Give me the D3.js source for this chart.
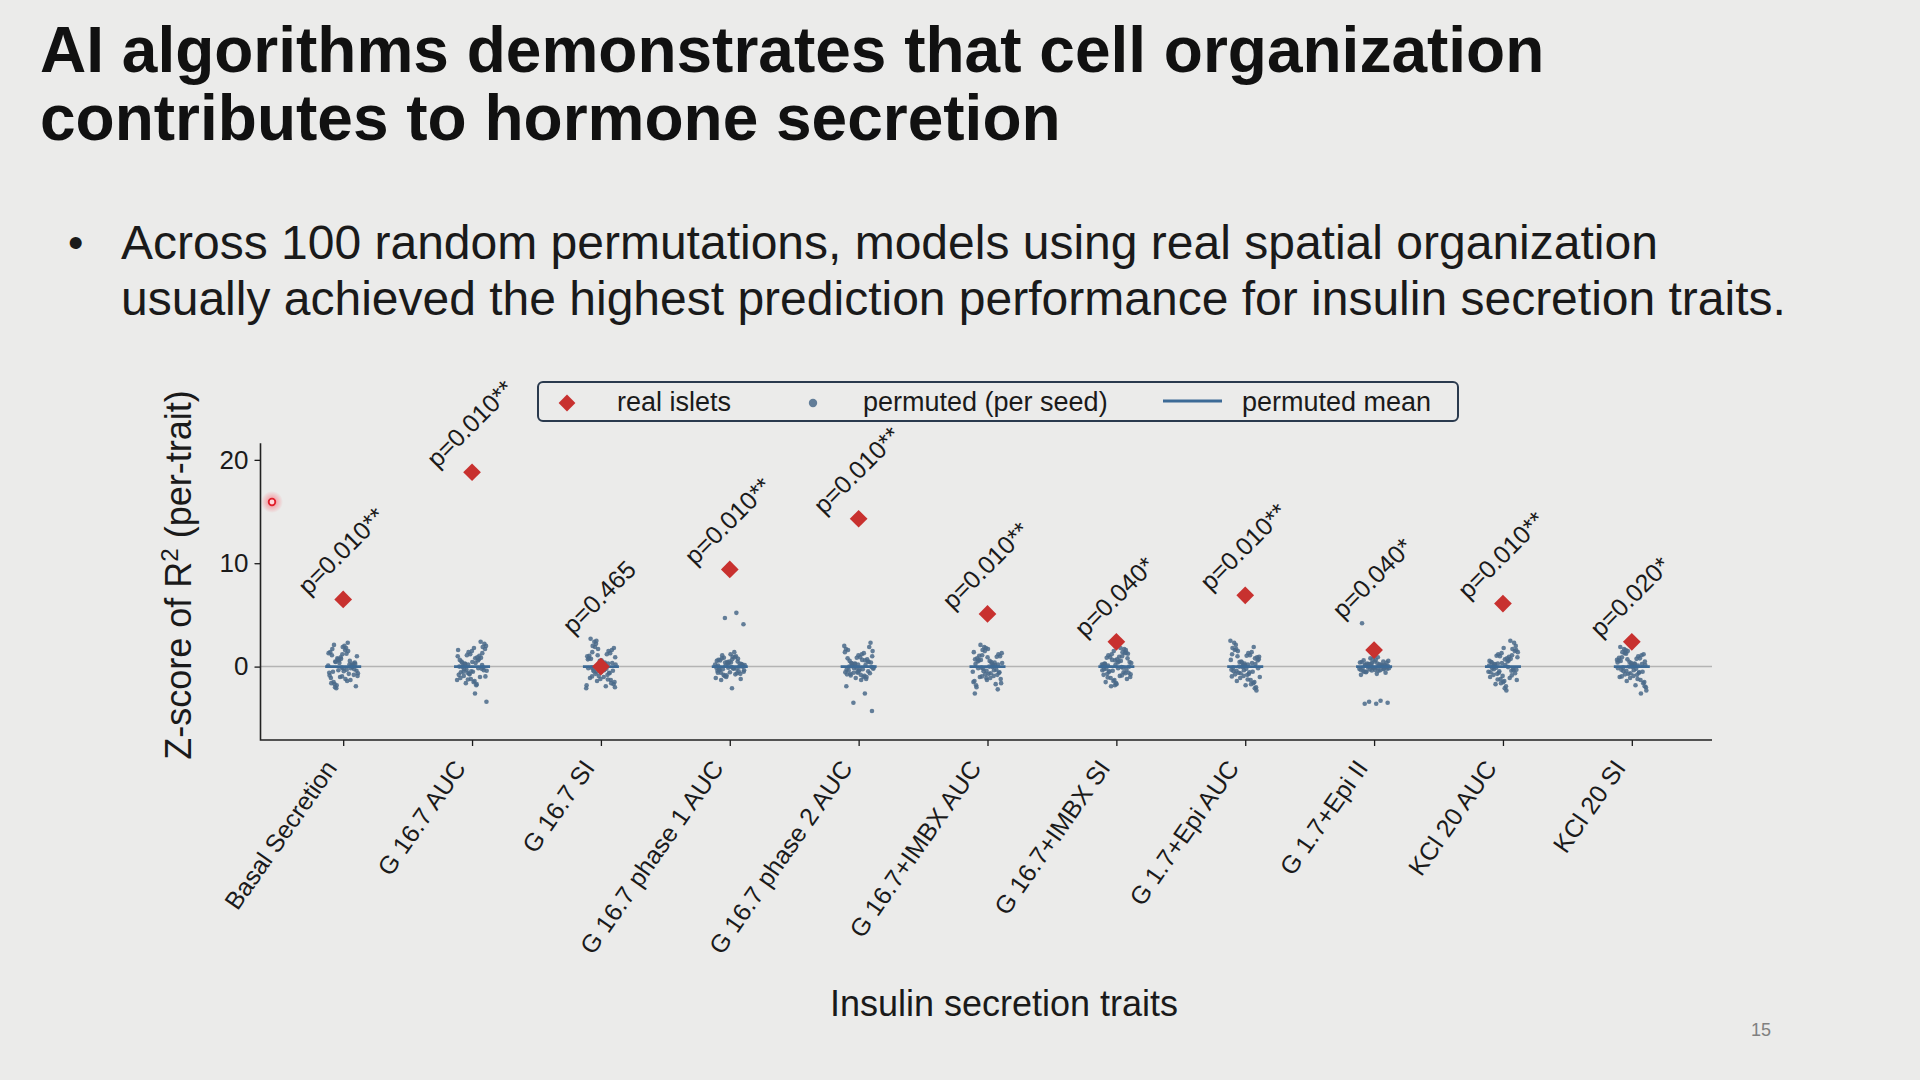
<!DOCTYPE html>
<html>
<head>
<meta charset="utf-8">
<script src="https://cdn.jsdelivr.net/npm/d3@7"></script>
<style>
  html, body { margin: 0; padding: 0; background: #ebebea; }
  svg { display: block; font-family: "Liberation Sans", Arial, sans-serif; }
</style>
</head>
<body>
<svg id="slide" width="1920" height="1080"></svg>
<script>
// Slide text
const titleLines = ["AI algorithms demonstrates that cell organization", "contributes to hormone secretion"];
const bulletLines = ["Across 100 random permutations, models using real spatial organization",
                     "usually achieved the highest prediction performance for insulin secretion traits."];
const pageNumber = "15";

// Chart data
const traits = ["Basal Secretion", "G 16.7 AUC", "G 16.7 SI", "G 16.7 phase 1 AUC", "G 16.7 phase 2 AUC",
                "G 16.7+IMBX AUC", "G 16.7+IMBX SI", "G 1.7+Epi AUC", "G 1.7+Epi II", "KCl 20 AUC", "KCl 20 SI"];
const realZ = [6.5, 18.8, 0.0, 9.4, 14.3, 5.1, 2.4, 6.9, 1.6, 6.1, 2.4];
const pLabels = ["p=0.010**", "p=0.010**", "p=0.465", "p=0.010**", "p=0.010**", "p=0.010**",
                 "p=0.040*", "p=0.010**", "p=0.040*", "p=0.010**", "p=0.020*"];
const permMean = [0, 0, 0, 0, 0, 0, 0, 0, 0, 0, 0];
const yTicks = [0, 10, 20];

const permBasal = [0.1,-0.3,0.5,-0.8,1.2,-1.1,0.2,0.7,-0.4,1.6,-1.5,0.0,0.9,-0.6,2.3,-2.1,0.4,-0.2,1.1,-1.3,0.6,-0.9,1.8,-1.7,0.3,-0.1,1.4,-0.7,0.8,-1.9,2.0,-0.5,0.15,-1.0,1.3,-1.4,0.45,-0.25,1.9,-1.6,0.55,-0.35,1.0,-1.2,2.1,-0.05,0.75,-0.85,1.5,-1.8,0.25,-0.45,1.7,-0.15,0.35,-0.65,1.25,-2.0,0.05,-0.95];
const permG167AUC = [0.2,-0.4,0.8,-0.9,1.3,-1.2,0.0,0.6,-0.3,1.7,-1.5,0.4,2.4,-0.7,1.0,-1.8,0.3,-0.1,1.5,-1.1,0.7,-0.6,2.0,-1.4,0.1,-0.2,1.2,-0.8,0.9,-1.6,2.2,-0.5,0.5,-1.0,1.4,-1.3,0.35,-0.25,1.9,-0.45,0.65,-0.15,1.1,-0.95,1.8,-0.05,0.85,-0.75,1.6,-1.7,0.25,-0.35,0.45,-0.55,1.05,-1.25,-3.4,-2.6,-0.5,0.15];
const permG167SI = [0.3,-0.5,0.9,-1.0,1.4,-1.3,0.1,0.7,-0.2,1.9,-1.7,0.5,2.7,-0.6,1.1,-2.1,0.4,-0.3,1.6,-1.2,0.8,-0.8,2.2,-1.5,0.0,-0.1,1.3,-0.9,1.0,-1.9,2.4,-0.4,0.6,-1.1,1.5,-1.4,0.2,-0.35,2.0,-1.6,0.55,-0.15,1.2,-0.7,1.8,-0.05,0.75,-0.65,1.7,-1.8,0.25,-0.45,0.35,-0.55,1.05,-1.25,2.5,-2.0,0.15,-0.95];
const permPhase1 = [0.1,-0.2,0.4,-0.5,0.7,-0.6,0.0,0.3,-0.1,0.9,-0.8,0.2,1.2,-0.3,0.5,-1.0,0.15,-0.15,0.8,-0.7,0.35,-0.4,1.0,-0.9,0.05,-0.05,0.6,-0.45,0.45,-1.1,1.4,-0.25,0.25,-0.55,0.65,-0.65,0.1,-0.35,0.95,-1.3,0.3,-0.1,0.55,-0.75,0.85,0.0,0.4,-0.3,0.75,-0.85,0.2,-0.2,1.1,-1.2,0.5,-0.6,5.2,4.7,4.1,-2.1];
const permPhase2 = [0.2,-0.3,0.6,-0.6,1.0,-0.8,0.0,0.5,-0.1,1.4,-1.0,0.3,2.3,-0.4,0.8,-1.2,0.25,-0.2,1.2,-0.7,0.45,-0.5,1.7,-0.9,0.1,-0.05,0.9,-0.35,0.7,-1.1,2.0,-0.25,0.35,-0.65,1.1,-0.75,0.15,-0.15,1.5,-1.3,0.55,-0.45,0.85,-0.55,1.3,0.05,0.4,-0.3,1.6,-1.0,0.3,-0.1,0.65,-0.85,1.9,-0.6,-1.9,-2.6,-3.5,-4.3];
const permImbxAUC = [0.2,-0.4,0.7,-0.9,1.1,-1.2,0.0,0.5,-0.3,1.5,-1.5,0.3,2.1,-0.6,0.9,-1.8,0.4,-0.2,1.3,-1.1,0.6,-0.8,1.8,-1.4,0.1,-0.1,1.0,-0.7,0.8,-1.7,1.9,-0.5,0.45,-1.0,1.2,-1.3,0.25,-0.35,1.6,-1.6,0.55,-0.15,0.95,-0.75,1.4,-0.05,0.65,-0.55,1.7,-2.0,0.15,-0.45,0.35,-0.65,1.05,-2.2,-1.1,-2.6,0.05,-0.95];
const permImbxSI = [0.1,-0.3,0.6,-0.8,1.0,-1.1,0.0,0.4,-0.2,1.3,-1.4,0.2,1.8,-0.5,0.8,-1.6,0.3,-0.1,1.2,-1.0,0.5,-0.7,1.6,-1.3,0.05,-0.05,0.9,-0.6,0.7,-1.5,1.7,-0.4,0.35,-0.9,1.1,-1.2,0.15,-0.25,1.4,-1.9,0.45,-0.15,0.85,-0.65,1.5,-0.35,0.55,-0.45,1.25,-1.7,0.25,-0.55,0.65,-0.75,0.95,-1.05,1.35,-1.8,0.2,-0.85];
const permEpiAUC = [0.2,-0.4,0.8,-0.9,1.2,-1.3,0.0,0.6,-0.2,1.6,-1.6,0.4,2.5,-0.7,1.0,-2.0,0.3,-0.1,1.4,-1.1,0.7,-0.8,2.1,-1.5,0.1,-0.3,1.1,-0.6,0.9,-1.8,2.3,-0.5,0.5,-1.0,1.3,-1.4,0.25,-0.35,1.8,-1.7,0.45,-0.15,1.05,-0.75,1.9,-0.05,0.65,-0.55,1.5,-2.3,0.15,-0.45,0.35,-0.65,0.95,-1.25,1.7,-2.1,0.05,-0.95];
const permEpiII = [0.05,-0.1,0.2,-0.25,0.35,-0.3,0.0,0.15,-0.05,0.5,-0.45,0.1,0.8,-0.15,0.3,-0.55,0.08,-0.08,0.45,-0.35,0.25,-0.2,0.65,-0.5,0.02,-0.02,0.4,-0.4,0.3,-0.6,1.0,-0.12,0.18,-0.28,0.55,-0.7,0.12,-0.18,0.7,-0.8,0.22,-0.06,0.38,-0.32,0.6,0.04,0.28,-0.22,0.9,-0.48,0.14,-0.14,4.2,-3.3,-3.4,-3.5,-3.6,-3.6,0.48,-0.38];
const permKclAUC = [0.3,-0.3,0.7,-0.8,1.1,-1.2,0.1,0.5,-0.1,1.5,-1.5,0.4,2.5,-0.6,0.9,-1.9,0.2,-0.2,1.3,-1.0,0.6,-0.7,2.0,-1.4,0.0,-0.4,1.0,-0.5,0.8,-1.7,2.3,-0.9,0.45,-1.1,1.2,-1.3,0.15,-0.25,1.7,-1.6,0.55,-0.05,1.05,-0.65,1.8,-0.15,0.75,-0.45,1.4,-2.3,0.25,-0.35,0.35,-0.55,0.95,-1.25,1.6,-2.1,0.05,-0.85];
const permKclSI = [0.1,-0.4,0.5,-0.9,0.9,-1.3,0.0,0.4,-0.2,1.3,-1.6,0.2,1.9,-0.6,0.7,-2.0,0.3,-0.1,1.1,-1.1,0.6,-0.8,1.6,-1.5,0.05,-0.3,0.8,-0.7,0.65,-1.8,1.7,-0.5,0.35,-1.0,1.0,-1.4,0.15,-0.35,1.4,-2.6,0.45,-0.15,0.75,-0.75,1.2,-0.05,0.55,-0.55,1.5,-2.3,0.25,-0.45,0.25,-0.65,0.85,-1.2,1.25,-1.9,0.1,-0.95];

const permuted = [permBasal, permG167AUC, permG167SI, permPhase1, permPhase2, permImbxAUC,
                  permImbxSI, permEpiAUC, permEpiII, permKclAUC, permKclSI];

const colorReal = "#c8312f";
const colorPerm = "#4a6a8a";
const colorMean = "#3c6a96";
const ink = "#1a1a1a";

const svg = d3.select("#slide");

// ---- slide text
svg.append("g").selectAll("text")
  .data(titleLines)
  .join("text")
    .attr("x", 40)
    .attr("y", (d, i) => 72 + i * 68)
    .attr("font-size", 64)
    .attr("font-weight", "bold")
    .attr("fill", "#111")
    .text(d => d);

svg.append("text")
    .attr("x", 68).attr("y", 258)
    .attr("font-size", 44).attr("fill", ink)
    .text("\u2022");

svg.append("g").selectAll("text")
  .data(bulletLines)
  .join("text")
    .attr("x", 121)
    .attr("y", (d, i) => 259 + i * 56)
    .attr("font-size", 48)
    .attr("fill", ink)
    .text(d => d);

svg.append("text")
    .attr("x", 1761).attr("y", 1036)
    .attr("text-anchor", "middle")
    .attr("font-size", 18).attr("fill", "#808080")
    .text(pageNumber);

// ---- chart
const plot = { left: 260.5, right: 1712, top: 443.3, bottom: 740 };

const x = d3.scalePoint()
    .domain(traits)
    .range([plot.left + 1.5, plot.right + 1])
    .padding(0.63);

const y = d3.scaleLinear()
    .domain([-7.1, 21.6])
    .range([plot.bottom, plot.top]);

const chart = svg.append("g");

// zero reference line
chart.append("line")
    .attr("x1", plot.left).attr("x2", plot.right)
    .attr("y1", y(0)).attr("y2", y(0))
    .attr("stroke", "#b4b4b4").attr("stroke-width", 1.5);

// axes
const yAxis = chart.append("g")
    .attr("transform", `translate(${plot.left},0)`)
    .call(d3.axisLeft(y).tickValues(yTicks).tickSize(6).tickPadding(6).tickSizeOuter(0));
yAxis.select(".domain").remove();
yAxis.selectAll("text").attr("font-size", 26).attr("fill", ink).attr("font-family", null);
yAxis.selectAll("line").attr("stroke", ink).attr("stroke-width", 1.3);

// tick labels sit at 55 deg, right end tucked under the tick
const xAxis = chart.append("g")
    .attr("transform", `translate(0,${plot.bottom})`)
    .call(d3.axisBottom(x).tickSize(6).tickSizeOuter(0));
xAxis.select(".domain").remove();
xAxis.selectAll("line").attr("stroke", ink).attr("stroke-width", 1.3);
xAxis.selectAll("text")
    .attr("font-size", 25).attr("fill", ink).attr("font-family", null)
    .attr("text-anchor", "end")
    .attr("dominant-baseline", "central")
    .attr("y", null).attr("dy", null)
    .attr("transform", "translate(-13,23) rotate(-55)");

chart.append("path")
    .attr("d", `M${plot.left},${plot.top}V${plot.bottom}H${plot.right}`)
    .attr("fill", "none").attr("stroke", "#222").attr("stroke-width", 1.6);

// permuted points with deterministic jitter
const jitter = 15;
traits.forEach((t, k) => {
  chart.append("g").selectAll("circle")
    .data(permuted[k])
    .join("circle")
      .attr("cx", (d, i) => x(t) + (((i * 0.6180339887 + k * 0.37) % 1) - 0.5) * 2 * jitter)
      .attr("cy", d => y(d))
      .attr("r", 2.3)
      .attr("fill", colorPerm)
      .attr("fill-opacity", 0.85);
});

// permuted mean lines
chart.append("g").selectAll("line")
  .data(traits)
  .join("line")
    .attr("x1", d => x(d) - 18).attr("x2", d => x(d) + 18)
    .attr("y1", (d, i) => y(permMean[i])).attr("y2", (d, i) => y(permMean[i]))
    .attr("stroke", colorMean).attr("stroke-width", 2.8);

// real islets diamonds
const diamond = d3.symbol().type(d3.symbolDiamond2).size(200);
chart.append("g").selectAll("path")
  .data(traits)
  .join("path")
    .attr("d", diamond)
    .attr("transform", (d, i) => `translate(${x(d)},${y(realZ[i])})`)
    .attr("fill", colorReal);

// p-value annotations, rotated 45 deg, bottom of the box at the top of the column
const pFont = 25;
chart.append("g").selectAll("text")
  .data(traits)
  .join("text")
    .attr("font-size", pFont)
    .attr("fill", ink)
    .attr("text-anchor", "middle")
    .attr("dominant-baseline", "central")
    .text((d, i) => pLabels[i])
    .each(function(d, i) {
      const len = this.getComputedTextLength();
      const boxH = (len + pFont * 0.85) / Math.SQRT2;
      const top = Math.max(realZ[i], d3.max(permuted[i])) + 0.2;
      d3.select(this).attr("transform", `translate(${x(d) - 2},${y(top) - boxH / 2}) rotate(-45)`);
    });

// axis titles
const yLabel = chart.append("text")
    .attr("transform", `translate(190.5,575) rotate(-90)`)
    .attr("text-anchor", "middle")
    .attr("font-size", 36)
    .attr("fill", ink);
yLabel.append("tspan").text("Z-score of R");
yLabel.append("tspan").attr("font-size", 24).attr("dy", -13).text("2");
yLabel.append("tspan").attr("dy", 13).text(" (per-trait)");

chart.append("text")
    .attr("x", 1004).attr("y", 1016)
    .attr("text-anchor", "middle")
    .attr("font-size", 36)
    .attr("fill", ink)
    .text("Insulin secretion traits");

// legend
const legend = chart.append("g").attr("transform", "translate(538,382)");
legend.append("rect")
    .attr("width", 920).attr("height", 39).attr("rx", 5)
    .attr("fill", "none").attr("stroke", "#2a3a4e").attr("stroke-width", 2);
legend.append("path")
    .attr("d", d3.symbol().type(d3.symbolDiamond2).size(180))
    .attr("transform", "translate(29,21)")
    .attr("fill", colorReal);
legend.append("circle")
    .attr("cx", 275).attr("cy", 21).attr("r", 4.2)
    .attr("fill", colorPerm).attr("fill-opacity", 0.85);
legend.append("line")
    .attr("x1", 625).attr("x2", 684).attr("y1", 19).attr("y2", 19)
    .attr("stroke", colorMean).attr("stroke-width", 3.2);
legend.selectAll("text")
  .data([["real islets", 79], ["permuted (per seed)", 325], ["permuted mean", 704]])
  .join("text")
    .attr("x", d => d[1]).attr("y", 29)
    .attr("font-size", 27).attr("fill", ink)
    .text(d => d[0]);

// laser pointer mark seen on the slide
const glow = svg.append("defs").append("radialGradient").attr("id", "glow");
glow.append("stop").attr("offset", "0%").attr("stop-color", "#ff3040").attr("stop-opacity", 0.55);
glow.append("stop").attr("offset", "100%").attr("stop-color", "#ff3040").attr("stop-opacity", 0);
svg.append("circle").attr("cx", 272).attr("cy", 502).attr("r", 11).attr("fill", "url(#glow)");
svg.append("circle").attr("cx", 272).attr("cy", 502).attr("r", 3.3)
    .attr("fill", "#ffd6da").attr("stroke", "#e0202c").attr("stroke-width", 1.8);
</script>
</body>
</html>
